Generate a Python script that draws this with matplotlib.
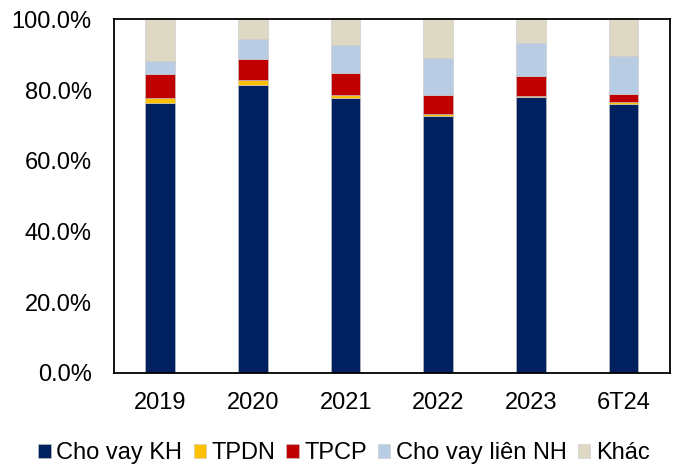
import numpy as np
import matplotlib.pyplot as plt

plt.rcParams['font.family'] = ['Liberation Sans', 'DejaVu Sans']

years = ["2019", "2020", "2021", "2022", "2023", "6T24"]
cho_vay_kh = [76.5, 81.6, 77.7, 72.6, 78.1, 76.2]
tpdn = [1.4, 1.2, 0.8, 0.6, 0.3, 0.5]
tpcp = [6.6, 5.9, 6.5, 5.4, 5.7, 2.1]
lien_nh = [3.7, 5.8, 7.7, 10.5, 9.3, 10.9]
khac = [11.8, 5.5, 7.3, 10.9, 6.6, 10.3]

series = [
    ("Cho vay KH", cho_vay_kh, "#002060"),
    ("TPDN", tpdn, "#FFC000"),
    ("TPCP", tpcp, "#C00000"),
    ("Cho vay liên NH", lien_nh, "#B8CCE4"),
    ("Khác", khac, "#DDD9C4"),
]

fig = plt.figure(figsize=(6.76, 4.74), dpi=100)
ax = fig.add_axes([0.1686, 0.2131, 0.8225, 0.7458])

x = np.arange(len(years))
bottom = np.zeros(len(years))
for name, vals, color in series:
    ax.bar(x, vals, 0.32, bottom=bottom, color=color, label=name,
           edgecolor="#c8c8c8", linewidth=0.4)
    bottom += np.array(vals)

ax.set_xlim(-0.5, len(years) - 0.5)
ax.set_ylim(0, 100)
ax.set_yticks(np.arange(0, 101, 20))
ax.set_yticklabels([f"{v:.1f}%" for v in np.arange(0, 101, 20)])
ax.set_xticks(x)
ax.set_xticklabels(years)
ax.tick_params(axis="both", length=0, labelsize=17)
ax.tick_params(axis="y", pad=16)
ax.tick_params(axis="x", pad=14)
for s in ax.spines.values():
    s.set_linewidth(1.3)
    s.set_color("black")

fig.legend(loc="center", bbox_to_anchor=(0.509, 0.044), ncol=5,
           frameon=False, fontsize=17, handlelength=0.52, handleheight=0.53,
           handletextpad=0.24, columnspacing=0.47, borderpad=0)

fig.savefig("out.png", dpi=100)
